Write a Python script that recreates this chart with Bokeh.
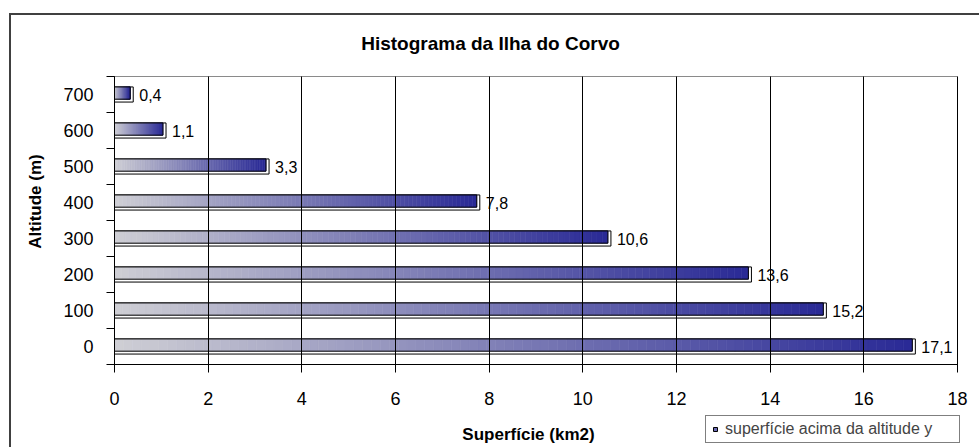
import numpy as np
from bokeh.plotting import figure
from bokeh.models import Range1d, FixedTicker, Legend, LegendItem
from bokeh.core.properties import value
from bokeh.embed import file_html
from bokeh.resources import INLINE

# ---- data ----
altitudes = [0, 100, 200, 300, 400, 500, 600, 700]
surface = [17.1, 15.2, 13.6, 10.6, 7.8, 3.3, 1.1, 0.4]
value_labels = ["17,1", "15,2", "13,6", "10,6", "7,8", "3,3", "1,1", "0,4"]
x_ticks = [0, 2, 4, 6, 8, 10, 12, 14, 16, 18]
y_tick_labels = ["0", "100", "200", "300", "400", "500", "600", "700"]
x_tick_labels = ["0", "2", "4", "6", "8", "10", "12", "14", "16", "18"]
title_text = "Histograma da Ilha do Corvo"
x_title = "Superfície (km2)"
y_title = "Altitude (m)"
legend_text = "superfície acima da altitude y"

FONT = "Liberation Sans"
W, H = 979, 447

# plot-area geometry (pixels): x=0 at 114, x=18 at 957; y=750 at 76, y=-50 at 364
PX_X = (957 - 114) / 18.0
PX_Y = (364 - 76) / 800.0
X0, X1 = 0, 18
Y0, Y1 = -50, 750
xr = Range1d(X0 - 114 / PX_X, X1 + (W - 957) / PX_X)
yr = Range1d(Y0 - (H - 364) / PX_Y, Y1 + 76 / PX_Y)

def xd(px):
    return X0 + (px - 114) / PX_X

def yd(py):
    return Y1 - (py - 76) / PX_Y

p = figure(width=W, height=H, output_backend="svg", toolbar_location=None,
           x_range=xr, y_range=yr,
           min_border_left=0, min_border_right=0, min_border_top=0,
           min_border_bottom=0)
p.background_fill_alpha = 0
p.border_fill_alpha = 0
p.outline_line_color = None
p.styles = {
    "background": "linear-gradient(#404040,#404040) 9px 13px / 2px 100% no-repeat, "
                  "linear-gradient(#404040,#404040) 9px 13px / 100% 2px no-repeat, white"
}
p.xgrid.visible = False
p.ygrid.visible = False

# real axes pinned at the plot-area edges; minor ticks give the tick marks,
# x-axis inward minor ticks span the plot area as the vertical grid lines
boundaries = [a - 50 for a in altitudes] + [altitudes[-1] + 50]
p.xaxis.fixed_location = Y0
p.xaxis.bounds = (X0, X1)
p.xaxis.ticker = FixedTicker(ticks=[], minor_ticks=x_ticks)
p.xaxis.minor_tick_out = 8
p.xaxis.minor_tick_in = int(round((Y1 - Y0) * PX_Y))
p.yaxis.fixed_location = X0
p.yaxis.bounds = (Y0, Y1)
p.yaxis.ticker = FixedTicker(ticks=[], minor_ticks=boundaries)
p.yaxis.minor_tick_out = 8
p.yaxis.minor_tick_in = 0
for ax in (p.xaxis, p.yaxis):
    ax.axis_line_color = "black"
    ax.axis_line_width = 1
    ax.minor_tick_line_color = "black"
    ax.minor_tick_line_width = 1
    ax.major_tick_out = 0
    ax.major_tick_in = 0
    ax.major_label_standoff = 0

# top edge of the plot area
p.segment(x0=[X0], y0=[Y1], x1=[X1], y1=[Y1], line_color="#8a8a8a", line_width=1)

# bars: outline + gradient slices
half = 21
shadow_x = 0.065
shadow_y = 8
vals = np.array(surface)
ys = np.array(altitudes, dtype=float)

p.quad(left=0, right=vals, bottom=ys - half, top=ys + half,
       fill_color="white", line_color="black", line_width=1)

c0 = np.array([206, 206, 212])
c1 = np.array([42, 42, 150])
N = 90
L, R, B, T, C = [], [], [], [], []
for v, y in zip(surface, altitudes):
    end = v - shadow_x
    edges = np.linspace(0, end, N + 1)
    for k in range(N):
        f = k / (N - 1)
        col = (c0 + (c1 - c0) * f).round().astype(int)
        L.append(edges[k]); R.append(edges[k + 1])
        B.append(y - half + shadow_y); T.append(y + half)
        C.append("#%02x%02x%02x" % tuple(col))
p.quad(left=L, right=R, bottom=B, top=T, fill_color=C, line_color=C, line_width=0.6)
p.quad(left=0, right=vals - shadow_x, bottom=ys - half + shadow_y, top=ys + half,
       fill_color=None, line_color="black", line_width=1)

# value labels
p.text(x=vals, y=ys, text=value_labels, x_offset=6, text_baseline="middle",
       text_align="left", text_font=value(FONT), text_font_size="16px",
       text_color="black")

# tick labels
p.text(x=x_ticks, y=[yd(398)] * len(x_ticks), text=x_tick_labels,
       text_align="center", text_baseline="middle", text_font=value(FONT),
       text_font_size="18px", text_color="black")
p.text(x=[xd(93)] * len(altitudes), y=altitudes, text=y_tick_labels,
       text_align="right", text_baseline="middle", text_font=value(FONT),
       text_font_size="18px", text_color="black")

# titles
p.text(x=[xd(490)], y=[yd(43)], text=[title_text], text_align="center",
       text_baseline="middle", text_font=value(FONT), text_font_size="19px",
       text_font_style="bold", text_color="black")
p.text(x=[xd(528)], y=[yd(434)], text=[x_title], text_align="center",
       text_baseline="middle", text_font=value(FONT), text_font_size="17px",
       text_font_style="bold", text_color="black")
p.text(x=[xd(35)], y=[yd(201)], text=[y_title], angle=np.pi / 2,
       text_align="center", text_baseline="middle", text_font=value(FONT),
       text_font_size="17px", text_font_style="bold", text_color="black")

# legend
dummy = p.scatter(x=[-10], y=[-1000], marker="square", size=9,
                  fill_color="#6a6ab4", line_color="black")
leg = Legend(items=[LegendItem(label=legend_text, renderers=[dummy])],
             location=(705, 4), orientation="vertical",
             label_text_font=FONT, label_text_font_size="16px",
             glyph_width=10, glyph_height=10, label_height=14, label_width=230,
             label_standoff=5, padding=4, spacing=0, margin=0,
             border_line_color="black", border_line_width=1,
             background_fill_color="white", background_fill_alpha=1)
p.add_layout(leg, "center")

open("out.html", "w").write(file_html(p, INLINE))
